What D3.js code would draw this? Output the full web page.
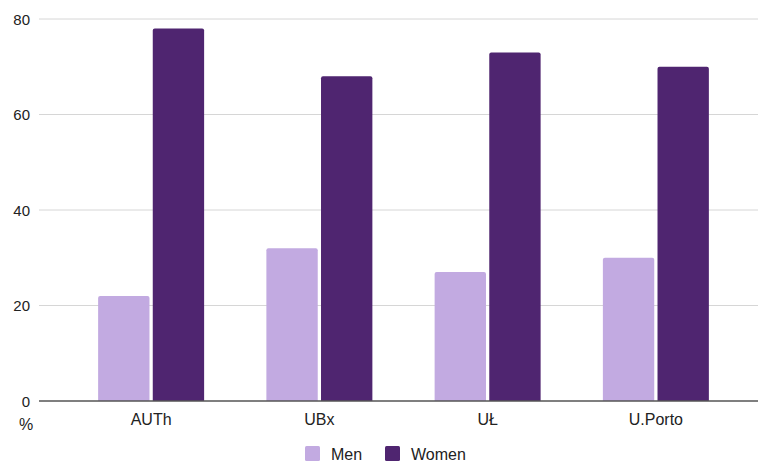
<!DOCTYPE html>
<html>
<head>
<meta charset="utf-8">
<script src="https://cdn.jsdelivr.net/npm/d3@7"></script>
<style>
  body { margin: 0; background: #fff; }
  svg text { font-family: "Liberation Sans", Arial, sans-serif; fill: #222; }
</style>
</head>
<body>
<svg id="chart" width="758" height="463"></svg>
<script>
  // data
  var universities = ["AUTh", "UBx", "UŁ", "U.Porto"];
  var series = ["Men", "Women"];
  var menValues = [22, 32, 27, 30];
  var womenValues = [78, 68, 73, 70];
  var yTicks = [0, 20, 40, 60, 80];

  var colors = {Men: "#c2aae1", Women: "#4f2570"};

  var svg = d3.select("#chart");

  var plot = {left: 39, right: 758, top: 19, bottom: 401};

  var y = d3.scaleLinear().domain([0, 80]).range([plot.bottom, plot.top]);
  var x0 = d3.scaleBand().domain(universities).range([67, 740])
    .paddingInner(0.37).paddingOuter(0.185);
  var x1 = d3.scaleBand().domain(series).range([0, x0.bandwidth()]).paddingInner(0.06);

  var rows = universities.map(function (u, i) {
    return {name: u, values: [{key: "Men", value: menValues[i]}, {key: "Women", value: womenValues[i]}]};
  });

  // gridlines
  svg.append("g").selectAll("line")
    .data(yTicks.filter(function (d) { return d > 0; }))
    .join("line")
    .attr("x1", plot.left).attr("x2", plot.right)
    .attr("y1", function (d) { return y(d); }).attr("y2", function (d) { return y(d); })
    .attr("stroke", "#d6d6d6").attr("stroke-width", 1);

  // y labels
  svg.append("g").selectAll("text")
    .data(yTicks)
    .join("text")
    .attr("x", 30).attr("y", function (d) { return y(d) + 5.5; })
    .attr("text-anchor", "end")
    .style("font-size", "15px")
    .text(function (d) { return d; });

  // bars
  var groups = svg.append("g").selectAll("g")
    .data(rows)
    .join("g")
    .attr("transform", function (d) { return "translate(" + x0(d.name) + ",0)"; });

  groups.selectAll("path")
    .data(function (d) { return d.values; })
    .join("path")
    .attr("fill", function (d) { return colors[d.key]; })
    .attr("d", function (d) {
      var bx = x1(d.key), bw = x1.bandwidth(), by = y(d.value), bh = plot.bottom - by, r = 2;
      return "M" + bx + "," + (by + bh) +
        "V" + (by + r) + "Q" + bx + "," + by + " " + (bx + r) + "," + by +
        "H" + (bx + bw - r) + "Q" + (bx + bw) + "," + by + " " + (bx + bw) + "," + (by + r) +
        "V" + (by + bh) + "Z";
    });

  // baseline
  svg.append("line")
    .attr("x1", plot.left).attr("x2", plot.right)
    .attr("y1", plot.bottom).attr("y2", plot.bottom)
    .attr("stroke", "#555").attr("stroke-width", 1.5);

  // x labels
  svg.append("g").selectAll("text")
    .data(universities)
    .join("text")
    .attr("x", function (d) { return x0(d) + x0.bandwidth() / 2; })
    .attr("y", 425)
    .attr("text-anchor", "middle")
    .style("font-size", "16px")
    .text(function (d) { return d; });

  svg.append("text")
    .attr("x", 26).attr("y", 430)
    .attr("text-anchor", "middle")
    .style("font-size", "16px")
    .text("%");

  // legend
  var legendItems = [{key: "Men", x: 305}, {key: "Women", x: 385}];
  var legend = svg.append("g").selectAll("g")
    .data(legendItems)
    .join("g")
    .attr("transform", function (d) { return "translate(" + d.x + ",446)"; });
  legend.append("rect")
    .attr("width", 15).attr("height", 15).attr("rx", 1.5)
    .attr("fill", function (d) { return colors[d.key]; });
  legend.append("text")
    .attr("x", 26).attr("y", 14)
    .style("font-size", "16px")
    .text(function (d) { return d.key; });
</script>
</body>
</html>
